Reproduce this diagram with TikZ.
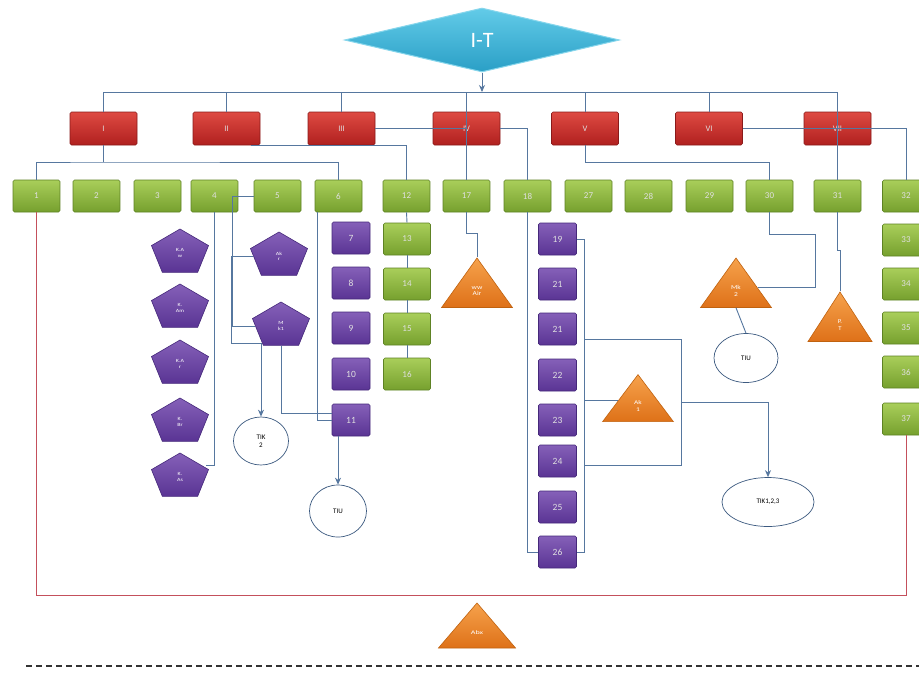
\documentclass[tikz,border=0pt]{standalone}
\usepackage{fontspec}
\setmainfont{Carlito}
\usetikzlibrary{shapes.geometric,arrows.meta}

\definecolor{redT}{HTML}{DE4A42}
\definecolor{redB}{HTML}{B0201F}
\definecolor{redD}{HTML}{8A1A1A}
\definecolor{grnT}{HTML}{A9CE5A}
\definecolor{grnB}{HTML}{76A02E}
\definecolor{grnD}{HTML}{5E8224}
\definecolor{purT}{HTML}{8560B8}
\definecolor{purB}{HTML}{5A3494}
\definecolor{purD}{HTML}{45287A}
\definecolor{oraT}{HTML}{F6A24C}
\definecolor{oraB}{HTML}{DE7118}
\definecolor{oraD}{HTML}{C0620F}
\definecolor{cyaT}{HTML}{62CBE8}
\definecolor{cyaB}{HTML}{2A9FC6}
\definecolor{cyaD}{HTML}{86D6EC}
\definecolor{wireC}{HTML}{56779F}
\definecolor{loopC}{HTML}{C4505C}
\definecolor{ovalD}{HTML}{3C5A80}

\tikzset{
  boxbase/.style={rectangle, rounded corners=1.5pt, inner sep=0pt, line width=0.6pt,
    text=white!88!black},
  redbox/.style={boxbase, minimum width=67pt, minimum height=33pt, draw=redD,
    top color=redT, bottom color=redB, font=\fontsize{8.5}{10}\selectfont},
  greenbox/.style={boxbase, minimum width=47pt, minimum height=32pt, draw=grnD,
    top color=grnT, bottom color=grnB, font=\fontsize{9}{10}\selectfont},
  purplebox/.style={boxbase, minimum width=38pt, minimum height=32pt, draw=purD,
    top color=purT, bottom color=purB, font=\fontsize{9.5}{10}\selectfont},
  penta/.style={regular polygon, regular polygon sides=5, minimum size=60pt,
    inner sep=0pt, yscale=0.8, line width=0.6pt, draw=purD, top color=purT,
    bottom color=purB, text=white, align=center, font=\fontsize{6}{6.5}\selectfont},
  tri/.style={regular polygon, regular polygon sides=3, minimum size=66pt,
    inner sep=0pt, line width=0.6pt, draw=oraD, top color=oraT, bottom color=oraB,
    text=white, align=center, font=\fontsize{6}{6.5}\selectfont},
  oval/.style={ellipse, draw=ovalD, line width=0.7pt, fill=white, inner sep=0pt,
    text=black, align=center, font=\fontsize{7}{8}\selectfont},
  diam/.style={diamond, minimum width=275pt, minimum height=64pt, inner sep=0pt,
    draw=cyaD, line width=1pt, top color=cyaT, bottom color=cyaB, text=white,
    font=\fontsize{22}{24}\selectfont},
  wire/.style={draw=wireC, line width=0.9pt},
  arrowwire/.style={wire, -{Stealth[length=7pt,width=6pt]}},
  loopwire/.style={draw=loopC, line width=1pt}
}

\begin{document}
\begin{tikzpicture}[x=1pt,y=-1pt]
\useasboundingbox (0,0) rectangle (919,681);
\clip (0,0) rectangle (919,681);
\fill[white] (0,0) rectangle (919,681);

% ---------- top decision ----------
\node[diam] (it) at (482,40) {I-T};
\coordinate (busL) at (102,92);

% ---------- first level ----------
\node[redbox] (r1) at (103.5,128.5) {I};
\node[redbox] (r2) at (226.5,128.5) {II};
\node[redbox] (r3) at (341.5,128.5) {III};
\node[redbox] (r4) at (466.5,128.5) {IV};
\node[redbox] (r5) at (585,128.5) {V};
\node[redbox] (r6) at (709,128.5) {VI};
\node[redbox] (r7) at (837.5,128.5) {VII};

% ---------- second level ----------
\foreach \lab/\x in {1/36.5,2/96.5,3/157.5,4/214.5,5/277.5,6/338.5,12/406.5,
  17/466.5,18/527.5,27/588.5,28/648.5,29/709.5,30/769.5,31/837.5,32/906}
  \node[greenbox] (g\lab) at (\x,196) {\lab};
\foreach \lab/\y in {13/239,14/284,15/329,16/374}
  \node[greenbox] (g\lab) at (407,\y) {\lab};
\foreach \lab/\y in {33/240,34/284,35/328,36/372,37/419}
  \node[greenbox] (g\lab) at (906,\y) {\lab};

% ---------- purple items ----------
\foreach \lab/\y in {7/238,8/283,9/328,10/374,11/420}
  \node[purplebox] (p\lab) at (351,\y) {\lab};
\foreach \nm/\lab/\y in {19/19/239,20/21/284,21/21/329,22/22/375,23/23/420,
  24/24/461,25/25/507,26/26/552}
  \node[purplebox] (p\nm) at (557.5,\y) {\lab};

\node[penta] (k1) at (180,253) {K.A\\w};
\node[penta] (k2) at (180,308) {K.\\Am};
\node[penta] (k3) at (180,364) {K.A\\r};
\node[penta] (k4) at (180,422) {K.\\Br};
\node[penta] (k5) at (180,477) {K.\\As};
\node[penta] (akr) at (279,256) {Ak\\r};
\node[penta] (mk1) at (281,326) {M\\k1};

% ---------- triangles ----------
\node[tri, xscale=1.24] (ww) at (477,291) {ww\\Air};
\node[tri, xscale=1.24] (mk2) at (736,291) {Mk\\2};
\node[tri, xscale=1.12] (pt) at (840,325) {P.\\T};
\node[tri, xscale=1.24, yscale=0.95] (ak1) at (638,406) {Ak\\1};
\node[tri, xscale=1.35, yscale=0.91] (abx) at (477,633) {Abx};

% ---------- ovals ----------
\node[oval, minimum width=55pt, minimum height=48pt] (tik2) at (261,441) {TIK\\2};
\node[oval, minimum width=57pt, minimum height=52pt] (tiu1) at (338,511) {TIU};
\node[oval, minimum width=64pt, minimum height=49pt] (tiu2) at (746,358) {TIU};
\node[oval, minimum width=92pt, minimum height=49pt] (tik123) at (768,502) {TIK1,2,3};

% ---------- connectors: top bus ----------
\draw[wire] (r1.north) -- (r1.north |- busL) -- (r7.north |- busL);
\foreach \n in {r2,r3,r5,r6}
  \draw[wire] (\n.north) -- (\n.north |- busL);
\draw[arrowwire] (it.south) -- (it.south |- busL);

% ---------- connectors: first to second level ----------
\coordinate (splitI) at (103.5,162);
\draw[wire] (r1.south) -- (splitI);
\draw[wire] (g1.north) |- (splitI) -| (g6.north);
\draw[wire] ([xshift=24pt]r2.south) -| (g12.north);
\draw[wire] (r3.east) -- (r4.center);
\draw[wire] (r4.north |- busL) -- (g17.north);
\draw[wire] (r4.east) -| (g18.north);
\draw[wire] (r5.south) -- ++(0,17) -| (g30.north);
\draw[wire] (r6.east) -| (g32.north);
\draw[wire] (r7.north |- busL) -- (g31.north);

% ---------- column under 12 ----------
\draw[wire] (g12.south) -- (g13.north);
\draw[wire] (g13.south) -- (g14.north);
\draw[wire] (g14.south) -- (g15.north);
\draw[wire] (g15.south) -- (g16.north);

% ---------- items under 4, 5 and 6 ----------
\draw[wire] (g4.south) |- ([yshift=12pt]k5.east);
\draw[wire] (g5.west) -- ++(-21,0) |- (mk1.west);
\draw[arrowwire] (akr.west) -- ++(-22,0) |- (261,343) -- (tik2.north);
\draw[wire] (mk1.south) |- ([yshift=7pt]p11.west);
\draw[wire] ([xshift=-21.5pt]g6.south) |- (p11.west);
\draw[arrowwire] (tiu1.north |- p11.south) -- (tiu1.north);

% ---------- items under 17 and 18 ----------
\draw[wire] (g17.south) -- ++(0,21) -| (ww.north);
\draw[wire] (g18.south) |- (p26.west);
\coordinate (bar) at ([xshift=8pt]p19.east);
\draw[wire] (p19.east) -- (bar) -- (bar |- p26.east) -- (p26.east);
\coordinate (brk) at (681,339);
\draw[wire] (bar |- brk) -- (brk) -- (681,465) -- (bar |- 0,465);
\draw[wire] (bar |- ak1.160) -- (ak1.160);
\draw[arrowwire] (681,402) -| (tik123.north);

% ---------- items under 30 and 31 ----------
\draw[wire] (g30.south) -- ++(0,22) -| ([xshift=58pt]mk2.10) -- (mk2.10);
\draw[wire] (mk2.south) -- (tiu2.north);
\draw[wire] (g31.south) -- ++(0,38) -| (pt.north);

% ---------- outer loop and footer ----------
\draw[loopwire] (g1.south) -- (g1.south |- 0,595) -| (g37.south);
\draw[draw=black!80, line width=1.5pt, dash pattern=on 6pt off 4pt] (26,666) -- (919,666);
\end{tikzpicture}
\end{document}
